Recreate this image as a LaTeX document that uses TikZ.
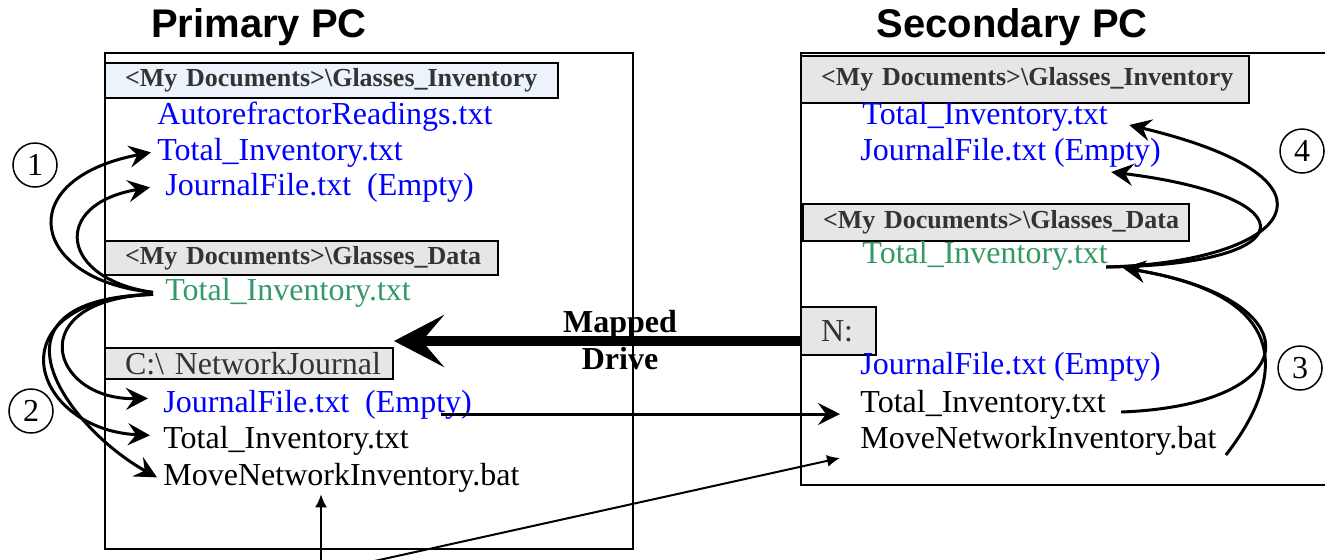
\documentclass[tikz,border=0pt]{standalone}
\usepackage{fontspec}
\setmainfont{Liberation Serif}
\newfontfamily\titlefont{Liberation Sans}
\usetikzlibrary{arrows.meta}
\definecolor{fileblue}{RGB}{0,0,255}
\definecolor{filegreen}{RGB}{51,153,102}
\definecolor{hdrtext}{RGB}{51,51,51}
\definecolor{hdrblue}{RGB}{236,243,250}
\definecolor{hdrgray}{RGB}{230,230,230}
\tikzset{
	file/.style={anchor=base west, inner xsep=3pt, inner ysep=1pt, font=\fontsize{16}{19}\selectfont},
	folder/.style={draw, line width=1pt, anchor=north west, inner xsep=10pt, inner ysep=0pt, fill=hdrgray, text=hdrtext, align=left, font=\bfseries\fontsize{13}{15}\selectfont},
	drive/.style={folder, font=\fontsize{16}{19}\selectfont},
	pcbox/.style={draw, line width=1pt, anchor=north west, inner sep=0pt},
	pctitle/.style={anchor=base, font=\titlefont\bfseries\fontsize{20}{24}\selectfont},
	stepno/.style={draw, circle, line width=0.75pt, minimum size=22pt, inner sep=0pt, font=\fontsize{16}{19}\selectfont},
	move/.style={line width=1.5pt, -{Stealth[length=11pt,width=11pt,inset=4pt]}},
	thinmove/.style={line width=1pt, -{Latex[length=6.5pt,width=6pt]}}
}

\begin{document}
\begin{tikzpicture}[x=0.5pt,y=-0.5pt]
	\useasboundingbox (0,0) rectangle (1325,559);
	\node[pctitle] (ptitle) at (259,37) {Primary PC};
	\node[pctitle] (stitle) at (1012,37) {Secondary PC};
	\node[pcbox, minimum width=264pt, minimum height=248pt] (pbox) at (104,52) {};
	\node[pcbox, minimum width=270pt, minimum height=216pt] (sbox) at (800,52) {};
	% primary PC
	\node[folder, fill=hdrblue, text width=206.5pt, minimum height=17.5pt] (hInvL) at (104,62) {\mbox{<My Documents>\textbackslash Glasses\_Inventory}};
	\node[file, text=fileblue] (pAuto) at (151,124) {AutorefractorReadings.txt};
	\node[file, text=fileblue] (pTot) at (151,160) {Total\_Inventory.txt};
	\node[file, text=fileblue] (pJnl) at (159,195) {JournalFile.txt\ \ (Empty)};
	\node[folder, text width=176.5pt, minimum height=17pt] (hDataL) at (104,240) {\mbox{<My Documents>\textbackslash Glasses\_Data}};
	\node[file, text=filegreen] (pData) at (159,300) {Total\_Inventory.txt};
	\node[drive, text width=124pt, minimum height=15.5pt] (hNet) at (104,347) {\mbox{C:\textbackslash\ NetworkJournal}};
	\node[file, text=fileblue] (nJnl) at (157,412) {JournalFile.txt\ \ (Empty)};
	\node[file] (nTot) at (157,448) {Total\_Inventory.txt};
	\node[file] (nBat) at (157,485) {MoveNetworkInventory.bat};
	% secondary PC
	\node[folder, text width=204pt, minimum height=23.5pt] (hInvR) at (800,55) {\mbox{<My Documents>\textbackslash Glasses\_Inventory}};
	\node[file, text=fileblue] (sTot) at (856,124) {Total\_Inventory.txt};
	\node[file, text=fileblue] (sJnl) at (854,160) {JournalFile.txt (Empty)};
	\node[folder, text width=173pt, minimum height=18.5pt] (hDataR) at (802,203) {\mbox{<My Documents>\textbackslash Glasses\_Data}};
	\node[file, text=filegreen] (sData) at (856,263) {Total\_Inventory.txt};
	\node[drive, text width=17.5pt, minimum height=24pt] (nbox) at (800,306) {N:};
	\node[file, text=fileblue] (mJnl) at (854,374) {JournalFile.txt (Empty)};
	\node[file] (mTot) at (854,412) {Total\_Inventory.txt};
	\node[file] (mBat) at (854,448) {MoveNetworkInventory.bat};
	% mapped drive
	\node[align=center, inner sep=0pt, font=\bfseries\fontsize{16}{18.5}\selectfont] (mapped) at (620,340) {Mapped\\Drive};
	\draw [line width=5pt,-{Stealth[length=25pt,width=26pt,inset=11pt]}] ([yshift=-5pt]nbox.west) -- ([yshift=3pt]hNet.north east);
	% steps
	\node[stepno] (one) at (35,165) {1};
	\node[stepno] (two) at (31,411) {2};
	\node[stepno] (three) at (1300,368) {3};
	\node[stepno] (four) at (1302,151) {4};
	\draw [move] ([xshift=-3pt]pData.west) .. controls +(-123,-12) and +(-141,27) .. (pTot.west);
	\draw [move] ([xshift=-3pt]pData.west) .. controls +(-93,-13) and +(-100,17) .. ([xshift=-4.5pt]pJnl.west);
	\draw [move] ([xshift=-3pt,yshift=-1pt]pData.west) .. controls +(-133,5) and +(-98,2) .. ([xshift=-4.5pt,yshift=3pt]nJnl.west);
	\draw [move] ([xshift=-3pt,yshift=-1pt]pData.west) .. controls +(-163,5) and +(-120,-6) .. ([xshift=-3.5pt,yshift=2.5pt]nTot.west);
	\draw [move] ([xshift=-3pt,yshift=-1pt]pData.west) .. controls +(-183,5) and +(-87,-48) .. (nBat.west);
	\draw [move] ([xshift=-18.5pt,yshift=-1pt]nJnl.base east) -- ([xshift=-7pt,yshift=-1pt]mTot.base west);
	\draw [move] ([xshift=4.5pt]mTot.base east) .. controls +(185,-7) and +(193,32) .. ([xshift=4.5pt,yshift=-2.5pt]sData.base east);
	\draw [move] ([xshift=1.5pt,yshift=-3.5pt]mBat.base east) .. controls +(43,-55) and +(193,32) .. ([xshift=4.5pt,yshift=-2.5pt]sData.base east);
	\draw [move] ([xshift=-4pt,yshift=-2pt]sData.base east) .. controls +(185,-5) and +(230,55) .. ([xshift=7.5pt,yshift=-0.5pt]sTot.base east);
	\draw [move] ([xshift=-4pt,yshift=-2pt]sData.base east) .. controls +(200,-2) and +(200,25) .. ([xshift=-28pt,yshift=-6pt]sJnl.base east);
	% batch file
	\coordinate (foot1) at (321,570);
	\coordinate (foot2) at (361,564);
	\draw [thinmove] (foot1) -- (foot1 |- nBat.south);
	\draw [thinmove] (foot2) -- ([xshift=-7pt,yshift=-5pt]mBat.base west);
\end{tikzpicture}
\end{document}
